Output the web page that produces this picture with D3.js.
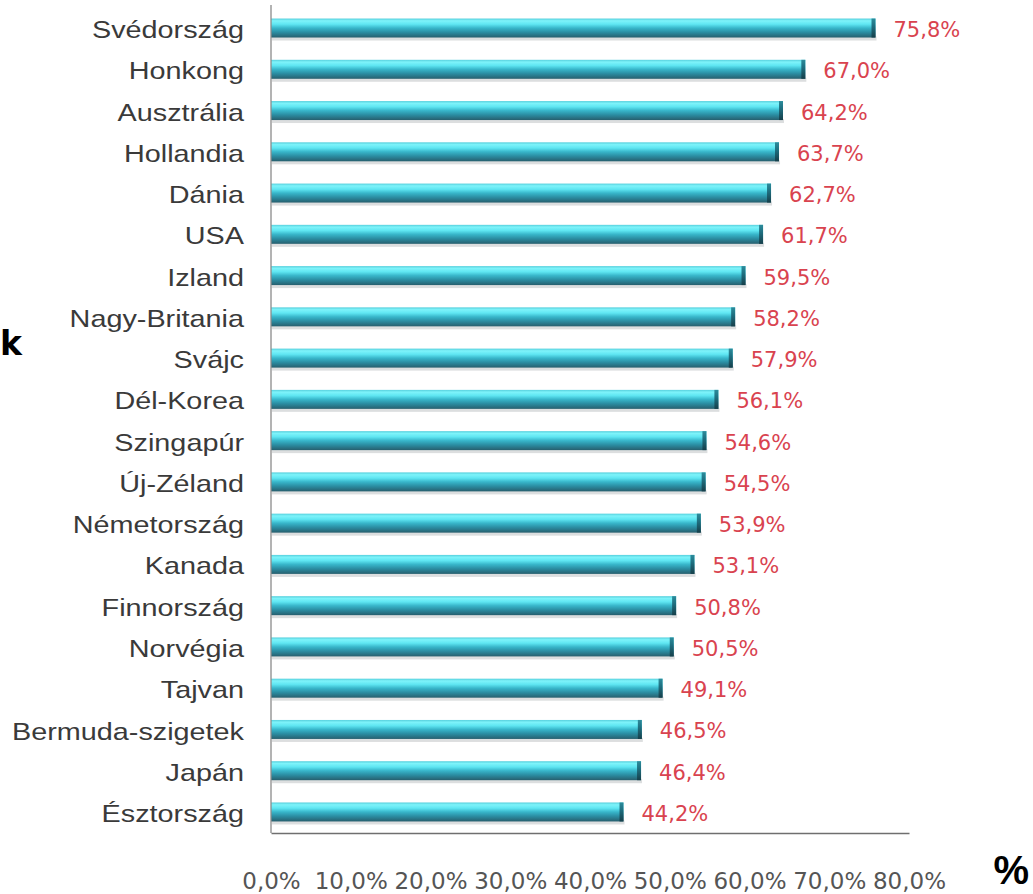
<!DOCTYPE html>
<html>
<head>
<meta charset="utf-8">
<script src="https://cdn.jsdelivr.net/npm/d3@7"></script>
<style>
  html, body { margin: 0; padding: 0; background: #ffffff; }
  svg { display: block; }
</style>
</head>
<body>
<svg id="chart" width="1033" height="894"></svg>
<script>
// Országok és értékek (%)
const categories = ["Svédország", "Honkong", "Ausztrália", "Hollandia", "Dánia", "USA", "Izland",
  "Nagy-Britania", "Svájc", "Dél-Korea", "Szingapúr", "Új-Zéland", "Németország", "Kanada",
  "Finnország", "Norvégia", "Tajvan", "Bermuda-szigetek", "Japán", "Észtország"];
const values = [75.8, 67.0, 64.2, 63.7, 62.7, 61.7, 59.5, 58.2, 57.9, 56.1,
  54.6, 54.5, 53.9, 53.1, 50.8, 50.5, 49.1, 46.5, 46.4, 44.2];
const tickValues = [0, 10, 20, 30, 40, 50, 60, 70, 80];

const huLocale = d3.formatLocale({ decimal: ",", thousands: " ", grouping: [3], currency: ["", " Ft"] });
const fmt = v => huLocale.format(".1f")(v) + "%";

const svg = d3.select("#chart");

const x = d3.scaleLinear().domain([0, 80]).range([271, 909]);
const y = d3.scaleBand().domain(categories).range([7.4, 832.6]).paddingInner(0.54).paddingOuter(0.27);

// cylinder-like shading for the bars
const defs = svg.append("defs");
const grad = defs.append("linearGradient").attr("id", "barGrad")
  .attr("x1", 0).attr("y1", 0).attr("x2", 0).attr("y2", 1);
[[0, "#56cfdc"], [0.12, "#7ef3fa"], [0.3, "#5fe6f2"], [0.5, "#38b6ca"],
 [0.72, "#2b8ea3"], [1, "#275f6e"]].forEach(([o, c]) =>
  grad.append("stop").attr("offset", o).attr("stop-color", c));
const capGrad = defs.append("linearGradient").attr("id", "capGrad")
  .attr("x1", 0).attr("y1", 0).attr("x2", 0).attr("y2", 1);
[[0, "#2c8c9c"], [0.4, "#1f6f80"], [1, "#163f4a"]].forEach(([o, c]) =>
  capGrad.append("stop").attr("offset", o).attr("stop-color", c));

const rows = svg.append("g").selectAll("g.row")
  .data(categories.map((c, i) => ({ c, v: values[i] })))
  .join("g").attr("class", "row");

// soft shadow under each bar
rows.append("rect")
  .attr("x", x(0) + 1)
  .attr("y", d => y(d.c) + y.bandwidth() - 1)
  .attr("width", d => x(d.v) - x(0))
  .attr("height", 4)
  .attr("fill", "#9aa0a4")
  .attr("opacity", 0.35);

rows.append("rect")
  .attr("x", x(0))
  .attr("y", d => y(d.c))
  .attr("width", d => x(d.v) - x(0))
  .attr("height", y.bandwidth())
  .attr("fill", "url(#barGrad)");

rows.append("rect")
  .attr("x", d => x(d.v) - 4)
  .attr("y", d => y(d.c))
  .attr("width", 4)
  .attr("height", y.bandwidth())
  .attr("fill", "url(#capGrad)");

// value labels
rows.append("text")
  .attr("x", d => x(d.v) + 18)
  .attr("y", d => y(d.c) + y.bandwidth() / 2 + 3)
  .attr("dominant-baseline", "middle")
  .attr("font-family", "DejaVu Sans, Verdana, sans-serif")
  .attr("font-size", 21)
  .attr("fill", "#d9434f")
  .text(d => fmt(d.v));

// category axis (labels drawn slightly wide)
const yAxis = svg.append("g").attr("transform", `translate(${x(0)},0)`)
  .call(d3.axisLeft(y).tickSize(0).tickPadding(22.5));
yAxis.select(".domain").remove();
yAxis.append("line").attr("x1", 0).attr("x2", 0).attr("y1", 5).attr("y2", 833)
  .attr("stroke", "#8a8a8a").attr("stroke-width", 1.3);
yAxis.selectAll(".tick text")
  .attr("font-family", "'Liberation Sans', Arial, sans-serif")
  .attr("font-size", 24)
  .attr("fill", "#3a3a3a")
  .attr("transform", "scale(1.2,1)")
  .attr("dy", "0.42em");

// value axis
const xAxis = svg.append("g").attr("transform", "translate(0,833)")
  .call(d3.axisBottom(x).tickValues(tickValues).tickFormat(fmt).tickSize(0).tickPadding(56));
xAxis.select(".domain").attr("stroke", "#6f6f6f").attr("stroke-width", 1.5);
xAxis.selectAll(".tick text")
  .attr("font-family", "DejaVu Sans, Verdana, sans-serif")
  .attr("font-size", 23)
  .attr("fill", "#555555")
  .attr("dy", "0");

// side markers
svg.append("text").attr("x", 0).attr("y", 355)
  .attr("font-family", "DejaVu Sans, Verdana, sans-serif").attr("font-weight", "bold")
  .attr("font-size", 33).attr("fill", "#000").text("k");
svg.append("text").attr("x", 1029).attr("y", 884)
  .attr("text-anchor", "end")
  .attr("font-family", "'Liberation Sans', Arial, sans-serif").attr("font-weight", "bold")
  .attr("font-size", 40).attr("fill", "#000").text("%");
</script>
</body>
</html>
